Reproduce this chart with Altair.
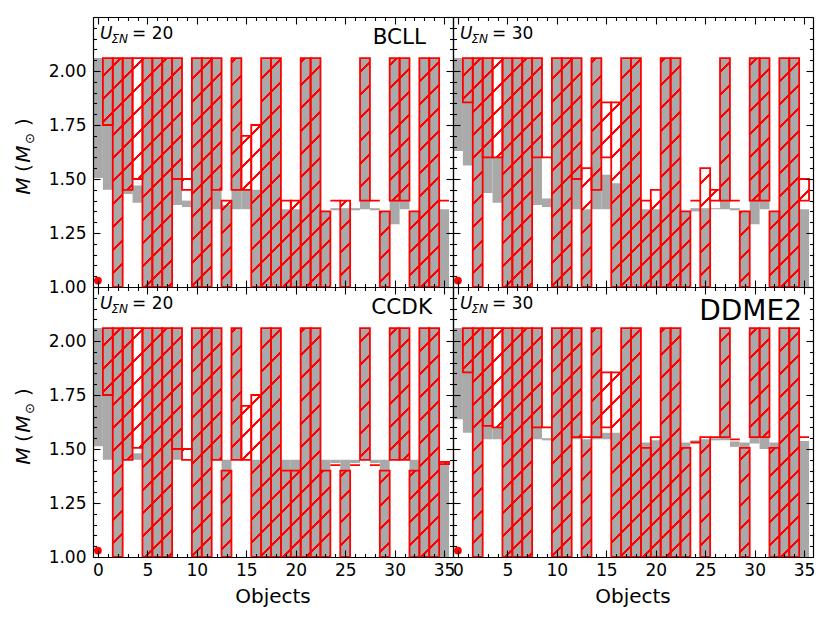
import math
import altair as alt

# ---------------- data ----------------
objects = list(range(36))

# BCLL, U_SigmaN = 20  (top-left)
gray_lo_A = [1.505, 1.45, 1.0, 1.43, 1.39, 1.0, 1.0, 1.0, 1.38, 1.37, 1.0, 1.0, 1.36, 1.0, 1.36, 1.36, 1.0, 1.0,
             1.0, 1.0, 1.0, 1.0, 1.0, 1.0, 1.355, 1.0, 1.355, 1.36, 1.355, 1.0, 1.29, 1.36, 1.0, 1.0, 1.0, 1.0]
gray_hi_A = [2.06, 2.06, 2.06, 2.06, 1.47, 2.06, 2.06, 2.06, 2.06, 1.40, 2.06, 2.06, 2.06, 1.38, 2.06, 1.45, 1.45, 2.06,
             2.06, 1.36, 1.36, 2.06, 2.06, 1.35, 1.365, 1.365, 1.365, 2.06, 1.365, 1.35, 2.06, 2.06, 1.35, 2.06, 2.06, 1.36]
red_lo_A = [None, 1.75, 1.0, 1.45, 1.50, 1.0, 1.0, 1.0, 1.50, 1.45, 1.0, 1.0, 1.45, 1.0, 1.45, 1.45, 1.0, 1.0,
            1.0, 1.0, 1.0, 1.0, 1.0, 1.0, 1.40, 1.0, None, 1.40, 1.40, 1.0, 1.40, 1.40, 1.0, 1.0, 1.0, 1.40]
red_hi_A = [None, 2.06, 2.06, 2.06, 2.06, 2.06, 2.06, 2.06, 2.06, 1.50, 2.06, 2.06, 2.06, 1.40, 2.06, 1.70, 1.75, 2.06,
            2.06, 1.40, 1.40, 2.06, 2.06, 1.35, 1.40, 1.40, None, 2.06, 1.40, 1.35, 2.06, 2.06, 1.35, 2.06, 2.06, 1.40]

# BCLL, U_SigmaN = 30  (top-right)
gray_lo_B = [1.63, 1.563, 1.0, 1.435, 1.39, 1.0, 1.0, 1.0, 1.38, 1.37, 1.0, 1.0, 1.36, 1.0, 1.36, 1.36, 1.0, 1.0,
             1.0, 1.0, 1.0, 1.0, 1.0, 1.0, 1.35, 1.0, 1.36, 1.36, 1.355, 1.0, 1.29, 1.36, 1.0, 1.0, 1.0, 1.0]
gray_hi_B = [2.06, 2.06, 2.06, 2.06, 1.60, 2.06, 2.06, 2.06, 2.06, 1.41, 2.06, 2.06, 2.06, 1.36, 2.06, 1.52, 1.48, 2.06,
             2.06, 1.36, 1.36, 2.06, 2.06, 1.35, 1.365, 1.365, 1.365, 2.06, 1.365, 1.35, 2.06, 2.06, 1.35, 2.06, 2.06, 1.36]
red_lo_B = [None, 1.855, 1.0, 1.60, 1.60, 1.0, 1.0, 1.0, 1.60, 1.60, 1.0, 1.0, 1.50, 1.0, 1.45, 1.60, 1.0, 1.0,
            1.0, 1.0, 1.0, 1.0, 1.0, 1.0, 1.40, 1.0, 1.40, 1.40, 1.40, 1.0, 1.40, 1.40, 1.0, 1.0, 1.0, 1.40]
red_hi_B = [None, 2.06, 2.06, 2.06, 2.06, 2.06, 2.06, 2.06, 2.06, 1.60, 2.06, 2.06, 2.06, 1.55, 2.06, 1.855, 1.855, 2.06,
            2.06, 1.40, 1.45, 2.06, 2.06, 1.35, 1.40, 1.55, 1.45, 2.06, 1.40, 1.35, 2.06, 2.06, 1.35, 2.06, 2.06, 1.50]

# CCDK, U_SigmaN = 20  (bottom-left)
gray_lo_C = [1.513, 1.45, 1.0, 1.45, 1.45, 1.0, 1.0, 1.0, 1.45, None, 1.0, 1.0, 1.45, 1.0, 1.45, None, 1.0, 1.0,
             1.0, 1.0, 1.0, 1.0, 1.0, 1.0, 1.435, 1.0, 1.435, 1.45, 1.435, 1.0, 1.45, 1.45, 1.0, 1.0, 1.0, 1.0]
gray_hi_C = [2.06, 2.06, 2.06, 2.06, 1.48, 2.06, 2.06, 2.06, 2.06, None, 2.06, 2.06, 2.06, 1.45, 2.06, None, 1.45, 2.06,
             2.06, 1.45, 1.45, 2.06, 2.06, 1.45, 1.45, 1.45, 1.45, 2.06, 1.45, 1.45, 2.06, 2.06, 1.45, 2.06, 2.06, 1.44]
red_lo_C = [None, 1.75, 1.0, 1.45, 1.505, 1.0, 1.0, 1.0, 1.50, 1.45, 1.0, 1.0, 1.45, 1.0, 1.45, 1.45, 1.0, 1.0,
            1.0, 1.0, 1.0, 1.0, 1.0, 1.0, 1.425, 1.0, 1.425, 1.45, 1.425, 1.0, 1.45, 1.45, 1.0, 1.0, 1.0, 1.43]
red_hi_C = [None, 2.06, 2.06, 2.06, 2.06, 2.06, 2.06, 2.06, 2.06, 1.50, 2.06, 2.06, 2.06, 1.40, 2.06, 1.70, 1.75, 2.06,
            2.06, 1.40, 1.40, 2.06, 2.06, 1.40, 1.425, 1.40, 1.425, 2.06, 1.425, 1.40, 2.06, 2.06, 1.40, 2.06, 2.06, 1.44]

# DDME2, U_SigmaN = 30  (bottom-right)
gray_lo_D = [1.638, 1.575, 1.0, 1.545, 1.545, 1.0, 1.0, 1.0, 1.545, 1.54, 1.0, 1.0, 1.545, 1.0, 1.545, 1.545, 1.0, 1.0,
             1.0, 1.0, 1.0, 1.0, 1.0, 1.0, 1.53, 1.0, 1.54, 1.54, 1.51, 1.0, 1.525, 1.50, 1.0, 1.0, 1.0, 1.0]
gray_hi_D = [2.06, 2.06, 2.06, 2.06, 1.60, 2.06, 2.06, 2.06, 2.06, 1.55, 2.06, 2.06, 2.06, 1.545, 2.06, 1.575, 1.575, 2.06,
             2.06, 1.53, 1.54, 2.06, 2.06, 1.53, 1.54, 1.545, 1.55, 2.06, 1.535, 1.53, 2.06, 2.06, 1.53, 2.06, 2.06, 1.537]
red_lo_D = [None, 1.855, 1.0, 1.607, 1.60, 1.0, 1.0, 1.0, 1.60, 1.60, 1.0, 1.0, 1.555, 1.0, 1.555, 1.60, 1.0, 1.0,
            1.0, 1.0, 1.0, 1.0, 1.0, 1.0, 1.53, 1.0, 1.555, 1.555, 1.545, 1.0, 1.555, 1.555, 1.0, 1.0, 1.0, 1.555]
red_hi_D = [None, 2.06, 2.06, 2.06, 2.06, 2.06, 2.06, 2.06, 2.06, 1.60, 2.06, 2.06, 2.06, 1.555, 2.06, 1.855, 1.855, 2.06,
            2.06, 1.505, 1.555, 2.06, 2.06, 1.505, 1.53, 1.555, 1.555, 2.06, 1.545, 1.505, 2.06, 2.06, 1.505, 2.06, 2.06, 1.555]

dot_x = [0]
dot_y = [1.03]

u_labels = ["= 20", "= 30", "= 20", "= 30"]
model_labels = ["BCLL", "", "CCDK", "DDME2"]

x_major = [0, 5, 10, 15, 20, 25, 30, 35]
x_minor = [i for i in range(36) if i % 5]
y_labels = [1.0, 1.25, 1.5, 1.75, 2.0]
y_major = [1.0, 1.25, 1.5, 1.75, 2.0, 2.25]
y_minor = [round(1.0 + 0.05 * k, 2) for k in range(26) if k % 5]

# ---------------- styling ----------------
FONT = "DejaVu Sans"
RED = "#ff0000"
CLEAR = "rgba(255,0,0,0)"
GRAY = "#a9a9a9"
W, H = 360, 270
XMIN, XMAX = -0.5, 35.9
YMIN, YMAX = 1.0, 2.25
PXX = W / (XMAX - XMIN)
PXY = H / (YMAX - YMIN)
HATCH_SP = 23.0   # vertical distance of hatch lines (px)
HATCH_TH = 2.2    # vertical thickness of hatch lines (px)


def hatch_fill(i, lo, hi):
    """'/' hatch as a striped linear gradient, phase-locked to the panel."""
    w = PXX
    h = (hi - lo) * PXY
    if h < 1.0:
        return CLEAR
    L = w + h
    s = L / (w * w + h * h)
    base = (i - 0.5 - XMIN) * PXX + (YMAX - hi) * PXY
    stops = [{"offset": 0, "color": CLEAR}]
    k = math.floor((base - 2 * HATCH_TH) / HATCH_SP)
    while True:
        c = k * HATCH_SP - base
        if c - 2 * HATCH_TH > L:
            break
        pts = [(c - HATCH_TH / 2 - 0.5, CLEAR), (c - HATCH_TH / 2, RED),
               (c + HATCH_TH / 2, RED), (c + HATCH_TH / 2 + 0.5, CLEAR)]
        for off, col in pts:
            stops.append({"offset": min(max(off / L, 0.0), 1.0), "color": col})
        k += 1
    stops.append({"offset": 1, "color": CLEAR})
    return {"gradient": "linear", "x1": 0, "y1": 0, "x2": s * w, "y2": s * h, "stops": stops}


def panel(gl, gh, rl, rh, u_txt, model_txt, model_size, model_dx, model_dy, row, col):
    xs = alt.Scale(domain=[XMIN, XMAX], nice=False, zero=False)
    ys = alt.Scale(domain=[YMIN, YMAX], nice=False, zero=False)

    gray_rows = [{"x0": i - 0.5, "x1": i + 0.5, "lo": a, "hi": b}
                 for i, a, b in zip(objects, gl, gh) if a is not None]
    red_rows = [{"x0": i - 0.5, "x1": i + 0.5, "lo": a, "hi": b, "g": hatch_fill(i, a, b)}
                for i, a, b in zip(objects, rl, rh) if a is not None]
    dot_rows = [{"x": a, "y": b} for a, b in zip(dot_x, dot_y)]

    if row == 1:
        xax = alt.Axis(orient="bottom", values=x_major, labels=True, ticks=False, tickSize=0, domain=False,
                       grid=False, title=None, labelFontSize=17, labelPadding=5, labelFont=FONT,
                       labelColor="black", format="d")
    else:
        xax = None
    if col == 0:
        yax = alt.Axis(orient="left", values=y_labels, labels=True, ticks=False, tickSize=0, domain=False,
                       grid=False, title=None, labelFontSize=17, labelPadding=7, labelFont=FONT,
                       labelColor="black", format=".2f")
    else:
        yax = None

    gray = alt.Chart(alt.Data(values=gray_rows)).mark_rect(color=GRAY).encode(
        x=alt.X("x0:Q", scale=xs, axis=xax), x2="x1:Q",
        y=alt.Y("lo:Q", scale=ys, axis=yax), y2="hi:Q")

    red = alt.Chart(alt.Data(values=red_rows)).mark_rect(stroke=RED, strokeWidth=1.8).encode(
        x=alt.X("x0:Q", scale=xs, axis=None), x2="x1:Q",
        y=alt.Y("lo:Q", scale=ys, axis=None), y2="hi:Q",
        fill=alt.Fill("g:N", scale=None))

    dot = alt.Chart(alt.Data(values=dot_rows)).mark_circle(size=60, color=RED, opacity=1).encode(
        x=alt.X("x:Q", scale=xs, axis=None), y=alt.Y("y:Q", scale=ys, axis=None))

    def ticks(ox, oy, xv, yv, size, dom):
        return alt.Chart(alt.Data(values=dot_rows)).mark_point(opacity=0).encode(
            x=alt.X("x:Q", scale=xs, axis=alt.Axis(orient=ox, offset=-H, values=xv, labels=False, domain=dom,
                                                   domainColor="black", domainWidth=1.2, grid=False,
                                                   tickSize=size, tickColor="black", tickWidth=1.1,
                                                   title=None, zindex=1)),
            y=alt.Y("y:Q", scale=ys, axis=alt.Axis(orient=oy, offset=-W, values=yv, labels=False, domain=dom,
                                                   domainColor="black", domainWidth=1.2, grid=False,
                                                   tickSize=size, tickColor="black", tickWidth=1.1,
                                                   title=None, zindex=1)))

    def txt(t, x, y, size, style="normal", align="left", angle=0):
        return alt.Chart(alt.Data(values=[{"t": t}])).mark_text(
            align=align, baseline="alphabetic", fontSize=size, fontStyle=style, font=FONT,
            angle=angle, color="black").encode(text="t:N", x=alt.value(x), y=alt.value(y))

    def rtxt(t, x, y, size, style="normal"):
        return alt.Chart(alt.Data(values=[{"t": t}])).mark_text(
            align="center", baseline="middle", fontSize=size, fontStyle=style, font=FONT,
            angle=270, color="black").encode(text="t:N", x=alt.value(x), y=alt.value(y))

    layers = [gray, red, dot,
              ticks("top", "right", x_major, y_major, 7, True),
              ticks("bottom", "left", x_major, y_major, 7, True),
              ticks("top", "right", x_minor, y_minor, 3.5, False),
              ticks("bottom", "left", x_minor, y_minor, 3.5, False),
              txt("U", 7, 22, 17, "italic"),
              txt("ΣN", 18.5, 25.5, 12, "italic"),
              txt(u_txt, 39, 22, 17)]
    if model_txt:
        layers.append(txt(model_txt, W - model_dx, model_dy, model_size, align="right"))
    if col == 0:
        layers += [rtxt("M", -69, 169, 20, "italic"), rtxt("(", -69, 151, 20),
                   rtxt("M", -69, 137, 20, "italic"), rtxt("⊙", -63, 121.5, 13),
                   rtxt(")", -69, 105, 20)]
    if row == 1:
        layers.append(txt("Objects", W / 2, H + 46, 20, align="center"))

    return alt.layer(*layers).resolve_axis(x="independent", y="independent").properties(width=W, height=H)


p00 = panel(gray_lo_A, gray_hi_A, red_lo_A, red_hi_A, u_labels[0], model_labels[0], 21.5, 27, 27, 0, 0)
p01 = panel(gray_lo_B, gray_hi_B, red_lo_B, red_hi_B, u_labels[1], model_labels[1], 21.5, 27, 27, 0, 1)
p10 = panel(gray_lo_C, gray_hi_C, red_lo_C, red_hi_C, u_labels[2], model_labels[2], 21.5, 21, 27, 1, 0)
p11 = panel(gray_lo_D, gray_hi_D, red_lo_D, red_hi_D, u_labels[3], model_labels[3], 28, 11, 33, 1, 1)

chart = alt.concat(p00, p01, p10, p11, columns=2, spacing=0, bounds="flush").properties(
    padding={"left": 5, "top": 7, "right": 5, "bottom": 5}
).configure_view(stroke="black", strokeWidth=1.2).configure(background="white")

chart.save("out.html", embed_options={"renderer": "svg", "actions": False})
